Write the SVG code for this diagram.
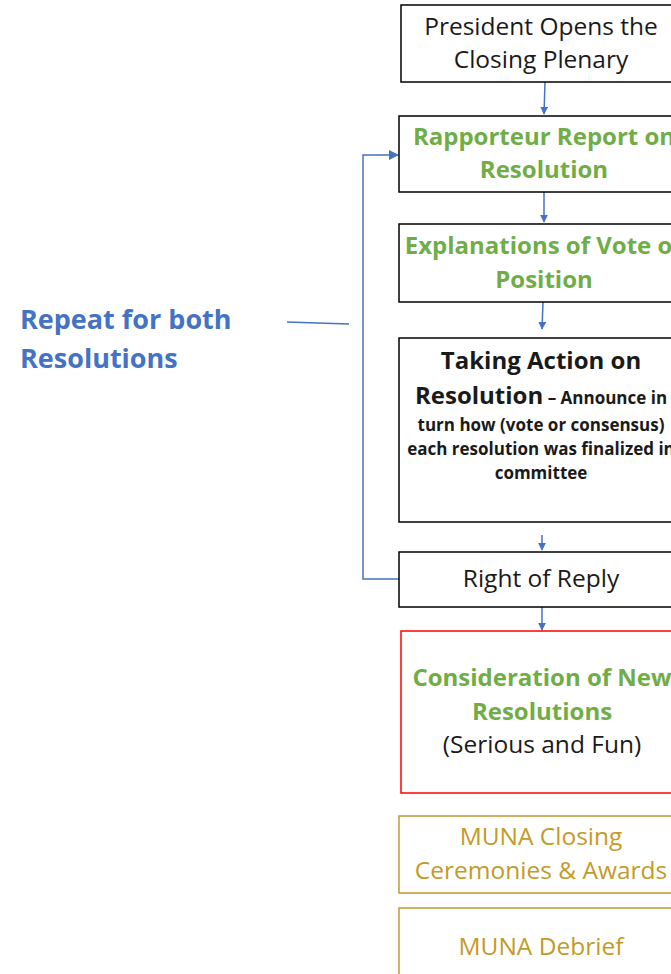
<svg xmlns="http://www.w3.org/2000/svg" width="671" height="974" viewBox="0 0 671 974">
<style>
.box{fill:#fff;stroke:#000;stroke-width:1.5}
.red{fill:#fff;stroke:#FF0000;stroke-width:1.5}
.gold{fill:#fff;stroke:#C09A2E;stroke-width:1.5}
.t{font-family:"Open Sans","Liberation Sans",sans-serif;font-size:24.5px;text-anchor:middle;fill:#1a1a1a}
.g{fill:#70AD47;font-weight:bold;font-size:24px}
.y{fill:#C39B27}
.b{font-weight:bold;font-size:24px}
.s{font-size:17px;font-weight:bold}
.c{fill:none;stroke:#4472C4;stroke-width:1.5}
.lab{font-family:"Open Sans","Liberation Sans",sans-serif;font-size:27px;font-weight:bold;fill:#4472C4}
</style>
<defs>
<marker id="ah" viewBox="0 0 10 10" refX="9" refY="5" markerWidth="8" markerHeight="8" orient="auto" markerUnits="userSpaceOnUse">
<path d="M0,0 L10,5 L0,10 z" fill="#4472C4"/>
</marker>
<marker id="ah2" viewBox="0 0 10 10" refX="9" refY="5" markerWidth="10" markerHeight="10" orient="auto" markerUnits="userSpaceOnUse">
<path d="M0,0 L10,5 L0,10 z" fill="#4472C4"/>
</marker>
</defs>
<g id="connectors">
<line class="c" x1="545" y1="82" x2="544" y2="114" marker-end="url(#ah)"/>
<line class="c" x1="544" y1="192" x2="544" y2="222" marker-end="url(#ah)"/>
<line class="c" x1="543" y1="302" x2="542" y2="329" marker-end="url(#ah)"/>
<line class="c" x1="542" y1="535" x2="542" y2="550" marker-end="url(#ah)"/>
<line class="c" x1="542" y1="607" x2="542" y2="630" marker-end="url(#ah)"/>
<polyline class="c" points="399,579 363,579 363,155 398,155" marker-end="url(#ah2)"/>
<line class="c" x1="287" y1="322" x2="349" y2="324"/>
</g>
<g id="label-repeat">
<text class="lab" x="20" y="329">Repeat for both</text>
<text class="lab" x="20" y="368">Resolutions</text>
</g>
<g id="n1">
<rect class="box" x="401" y="5" width="300" height="77"/>
<text class="t" x="541" y="35">President Opens the</text>
<text class="t" x="541" y="68">Closing Plenary</text>
</g>
<g id="n2">
<rect class="box" x="399" y="116" width="300" height="76"/>
<text class="t g" x="544" y="145">Rapporteur Report on</text>
<text class="t g" x="544" y="178">Resolution</text>
</g>
<g id="n3">
<rect class="box" x="399" y="224" width="300" height="78"/>
<text class="t g" x="544" y="254">Explanations of Vote or</text>
<text class="t g" x="544" y="288">Position</text>
</g>
<g id="n4">
<rect class="box" x="399" y="338" width="300" height="184"/>
<text class="t b" x="541" y="369">Taking Action on</text>
<text class="t" x="541" y="404"><tspan class="b">Resolution</tspan><tspan class="s"> – Announce in</tspan></text>
<text class="t s" x="541" y="431">turn how (vote or consensus)</text>
<text class="t s" x="541" y="455">each resolution was finalized in</text>
<text class="t s" x="541" y="479">committee</text>
</g>
<g id="n5">
<rect class="box" x="399" y="552" width="300" height="55"/>
<text class="t" x="541" y="587">Right of Reply</text>
</g>
<g id="n6">
<rect class="red" x="401" y="631" width="300" height="162"/>
<text class="t g" x="542" y="686">Consideration of New</text>
<text class="t g" x="542" y="720">Resolutions</text>
<text class="t" x="542" y="753">(Serious and Fun)</text>
</g>
<g id="n7">
<rect class="gold" x="399" y="816" width="300" height="77"/>
<text class="t y" x="541" y="845">MUNA Closing</text>
<text class="t y" x="541" y="879">Ceremonies &amp; Awards</text>
</g>
<g id="n8">
<rect class="gold" x="399" y="908" width="300" height="100"/>
<text class="t y" x="541" y="955">MUNA Debrief</text>
</g>
</svg>
